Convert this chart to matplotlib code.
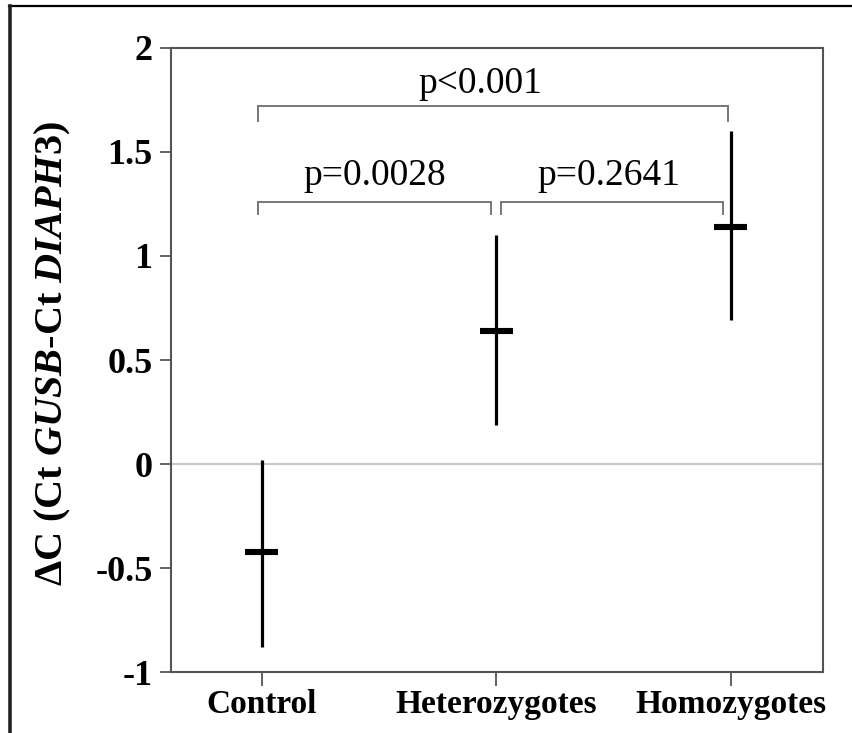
import numpy as np
import matplotlib.pyplot as plt
from matplotlib.lines import Line2D

plt.rcParams['font.family'] = ['Liberation Serif', 'DejaVu Serif']
plt.rcParams['mathtext.fontset'] = 'custom'
plt.rcParams['mathtext.rm'] = 'Liberation Serif:bold'
plt.rcParams['mathtext.it'] = 'Liberation Serif:italic:bold'
plt.rcParams['mathtext.bf'] = 'Liberation Serif:bold'

### data
groups = ['Control', 'Heterozygotes', 'Homozygotes']
means = [-0.42, 0.64, 1.14]
upper = [0.02, 1.10, 1.60]
lower = [-0.88, 0.19, 0.69]

# significance brackets: (x start, x end, bracket y, leg y, label)
comparisons = [
    (0.983, 2.987, 1.722, 1.648, 'p<0.001'),
    (0.983, 1.979, 1.260, 1.200, 'p=0.0028'),
    (2.018, 2.966, 1.260, 1.200, 'p=0.2641'),
]
label_pos = [(1.93, 1.782), (1.48, 1.34), (2.48, 1.34)]

SPINE = '#555555'


def main():
    x = np.arange(1, len(groups) + 1)
    m = np.array(means)
    err = [m - np.array(lower), np.array(upper) - m]

    fig = plt.figure(figsize=(8.52, 7.33), dpi=100)
    ax = fig.add_axes([0.2003, 0.0828, 0.7660, 0.8521])

    ax.axhline(0, color='#c8c8c8', lw=1.6, zorder=1)

    # vertical ranges and mean bars
    ax.errorbar(x, m, yerr=err, fmt='none', ecolor='black', elinewidth=2.3,
                capsize=0, zorder=3)
    ax.hlines(m, x - 0.07, x + 0.07, colors='black', lw=4.4, zorder=4,
              capstyle='butt')

    # brackets with p values
    for (x0, x1, yb, yl, txt), (tx, ty) in zip(comparisons, label_pos):
        ax.plot([x0, x0, x1, x1], [yl, yb, yb, yl], color='#777777', lw=1.4,
                solid_joinstyle='miter', zorder=2)
        ax.text(tx, ty, txt, ha='center', va='baseline', fontsize=27)

    ax.set_xlim(0.611, 3.394)
    ax.set_ylim(-1, 2)
    ax.set_xticks(x)
    ax.set_xticklabels(groups, fontsize=24, fontweight='bold')
    ax.set_yticks([-1, -0.5, 0, 0.5, 1, 1.5, 2])
    ax.set_yticklabels(['-1', '-0.5', '0', '0.5', '1', '1.5', '2'],
                       fontsize=26, fontweight='bold')
    ax.tick_params(axis='y', length=8, width=1.3, color=SPINE, pad=5)
    ax.tick_params(axis='x', length=10, width=1.3, color=SPINE, pad=2)
    for s in ax.spines.values():
        s.set_color(SPINE)
        s.set_linewidth(1.5)

    ax.set_ylabel('ΔC (Ct $\\mathit{GUSB}$-Ct $\\mathit{DIAPH3}$)',
                  fontsize=29, fontweight='bold')
    ax.yaxis.set_label_coords(-0.149, 0.51)

    # outer frame (top and left edges)
    W, H = 852, 733
    fig.add_artist(Line2D([9 / W, 1], [1 - 6 / H, 1 - 6 / H],
                          transform=fig.transFigure, color='black', lw=1.6))
    fig.add_artist(Line2D([9.5 / W, 9.5 / W], [0, 1 - 6 / H],
                          transform=fig.transFigure, color='#222222', lw=2.6))

    fig.savefig('out.png', dpi=100, facecolor='white')


if __name__ == "__main__":
    main()
